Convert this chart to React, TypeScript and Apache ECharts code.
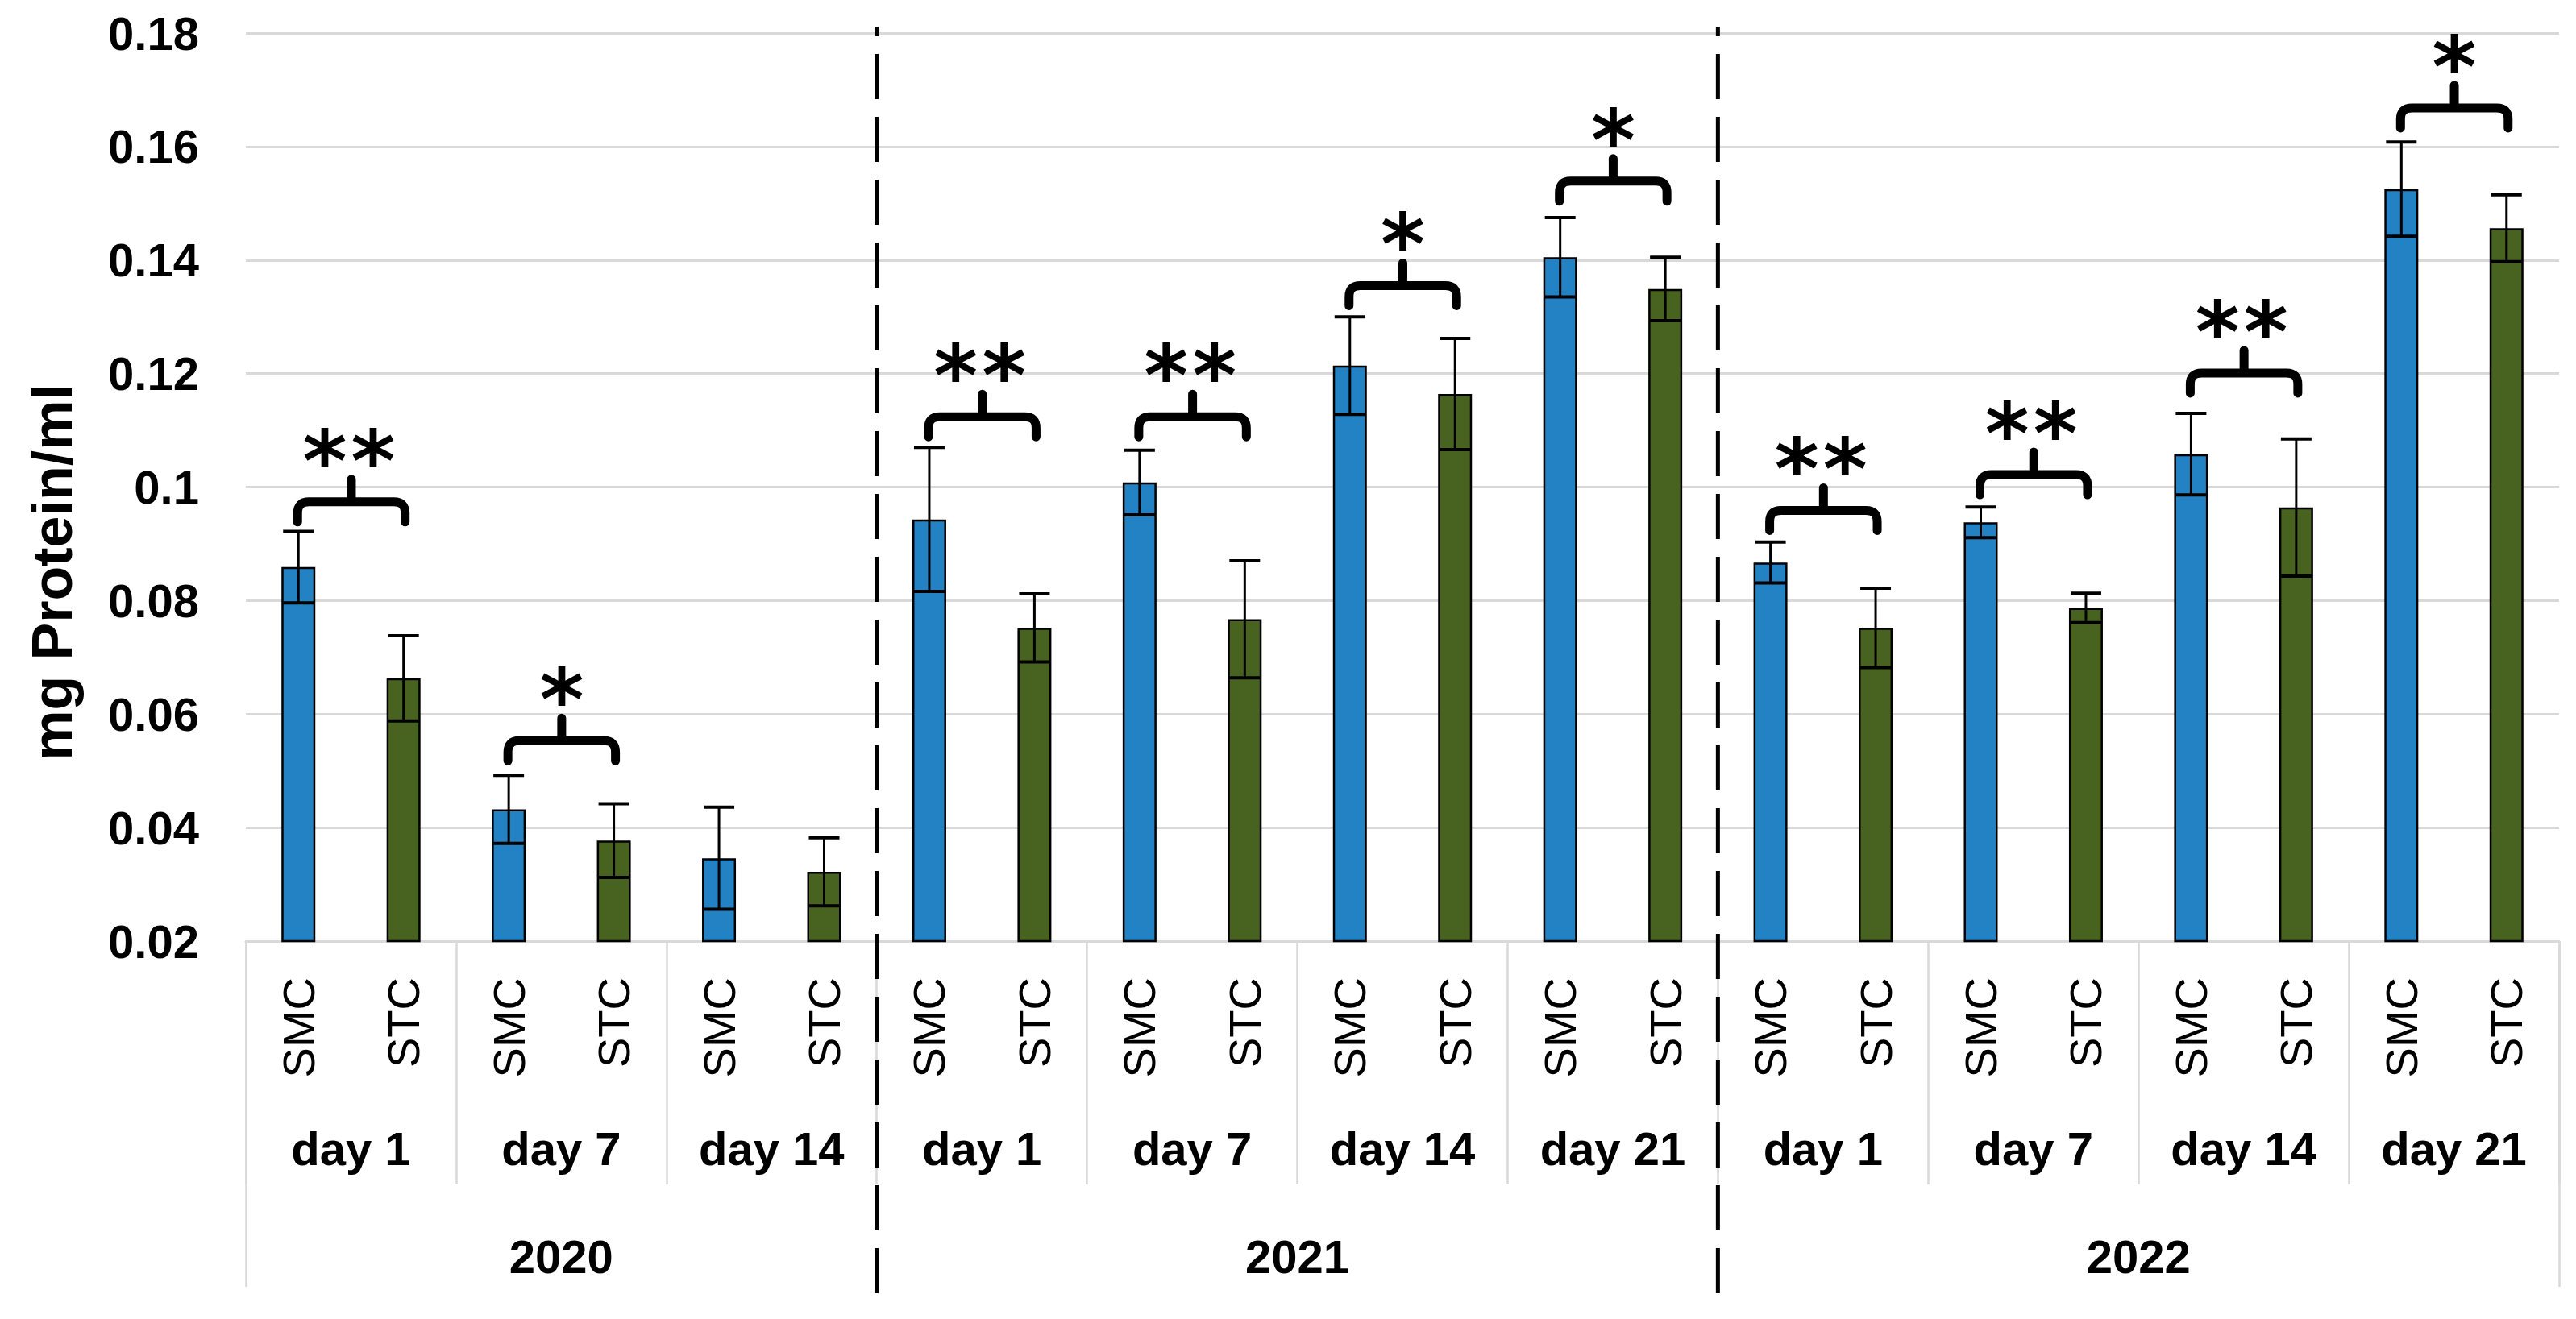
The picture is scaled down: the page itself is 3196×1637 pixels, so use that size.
import React, { useEffect, useRef } from 'react';
import * as echarts from 'echarts';

// ---------- data ----------
const years = ['2020', '2021', '2022'];
const dayGroups = [
  ['day 1', 'day 7', 'day 14'],
  ['day 1', 'day 7', 'day 14', 'day 21'],
  ['day 1', 'day 7', 'day 14', 'day 21'],
];
const treatments = ['SMC', 'STC'];

const smcMean = [0.0859, 0.0432, 0.0346, 0.0943, 0.1008, 0.1214, 0.1405, 0.0867, 0.0938, 0.1058, 0.1525];
const smcErr = [0.0063, 0.006, 0.009, 0.0127, 0.0057, 0.0086, 0.007, 0.0036, 0.0027, 0.0072, 0.0083];
const stcMean = [0.0663, 0.0377, 0.0322, 0.0752, 0.0767, 0.1164, 0.1349, 0.0752, 0.0787, 0.0964, 0.1456];
const stcErr = [0.0075, 0.0065, 0.006, 0.006, 0.0103, 0.0098, 0.0056, 0.007, 0.0026, 0.0121, 0.0059];

const significance = ['**', '*', '', '**', '**', '*', '*', '**', '**', '**', '*'];
const bracketLevel = [0.0974, 0.0553, 0, 0.1124, 0.1124, 0.1355, 0.1539, 0.0959, 0.1022, 0.1201, 0.1668];

const yMin = 0.02;
const yMax = 0.18;
const yStep = 0.02;
const yTitle = 'mg Protein/ml';

// ---------- styles ----------
const FONT = "'Liberation Sans', Arial, sans-serif";
const BLUE = '#2382C4';
const GREEN = '#48631F';
const GRAY = '#D9D9D9';

export default function App() {
  const ref = useRef<HTMLDivElement>(null);

  useEffect(() => {
    const chart = echarts.init(ref.current!, null, { renderer: 'svg' });

    const days = dayGroups.flat();
    const cats: string[] = [];
    days.forEach(() => treatments.forEach((t) => cats.push(t)));

    const smcData: any[] = [];
    const stcData: any[] = [];
    const errData: number[][] = [];
    const bracketData: number[][] = [];
    days.forEach((_, i) => {
      smcData.push(smcMean[i], '-');
      stcData.push('-', stcMean[i]);
      errData.push([2 * i, smcMean[i], smcErr[i]]);
      errData.push([2 * i + 1, stcMean[i], stcErr[i]]);
      if (significance[i]) bracketData.push([2 * i, bracketLevel[i], significance[i].length]);
    });

    const boundaries: number[] = [0];
    dayGroups.forEach((g) => boundaries.push(boundaries[boundaries.length - 1] + g.length * treatments.length));
    const yearCenters = years.map((_, i) => (boundaries[i] + boundaries[i + 1]) / 2);
    const innerBoundaries = boundaries.slice(1, -1).map((b) => [b, yMax]);
    const outerBoundaries = [boundaries[0], boundaries[boundaries.length - 1]];

    const option: any = {
      animation: false,
      backgroundColor: '#fff',
      grid: { left: 305, right: 21, top: 41, bottom: 469, containLabel: false },
      xAxis: [
        {
          type: 'category',
          data: cats,
          position: 'bottom',
          axisLine: { show: true, lineStyle: { color: GRAY, width: 3 } },
          axisTick: { show: false },
          axisLabel: {
            interval: 0,
            rotate: 90,
            margin: 45,
            fontSize: 56,
            fontFamily: FONT,
            color: '#000',
          },
          splitLine: { show: false },
        },
        {
          type: 'category',
          data: days,
          position: 'bottom',
          axisLine: { show: false },
          axisTick: { show: true, interval: 0, length: 302, lineStyle: { color: GRAY, width: 2.5 } },
          axisLabel: {
            interval: 0,
            margin: 228,
            fontSize: 58,
            fontWeight: 'bold',
            fontFamily: FONT,
            color: '#000',
          },
          splitLine: { show: false },
        },
        {
          type: 'value',
          min: 0,
          max: boundaries[boundaries.length - 1],
          position: 'bottom',
          axisLine: { show: false },
          axisTick: { show: true, customValues: outerBoundaries, length: 429, lineStyle: { color: GRAY, width: 2.5 } },
          axisLabel: {
            customValues: yearCenters,
            margin: 362,
            fontSize: 58,
            fontWeight: 'bold',
            fontFamily: FONT,
            color: '#000',
            formatter: (v: number) => years[yearCenters.indexOf(v)] ?? '',
          },
          splitLine: { show: false },
        },
      ],
      yAxis: {
        type: 'value',
        min: yMin,
        max: yMax,
        interval: yStep,
        axisLine: { show: false },
        axisTick: { show: false },
        splitLine: { show: true, lineStyle: { color: GRAY, width: 3 } },
        axisLabel: {
          margin: 58,
          fontSize: 58,
          fontWeight: 'bold',
          fontFamily: FONT,
          color: '#000',
          formatter: (v: number) => String(+v.toFixed(2)),
        },
        name: yTitle,
        nameLocation: 'middle',
        nameRotate: 90,
        nameGap: 205,
        nameTextStyle: {
          fontSize: 70,
          fontWeight: 'bold',
          fontFamily: FONT,
          color: '#000',
          padding: [0, 212, 0, 0],
        },
      },
      series: [
        {
          name: treatments[0],
          type: 'bar',
          xAxisIndex: 0,
          data: smcData,
          barWidth: 42,
          barGap: '-100%',
          itemStyle: { color: BLUE, borderColor: '#000', borderWidth: 2.5 },
          z: 2,
        },
        {
          name: treatments[1],
          type: 'bar',
          xAxisIndex: 0,
          data: stcData,
          barWidth: 42,
          barGap: '-100%',
          itemStyle: { color: GREEN, borderColor: '#000', borderWidth: 2.5 },
          z: 2,
        },
        {
          type: 'custom',
          name: 'error',
          xAxisIndex: 0,
          data: errData,
          z: 5,
          renderItem: (params: any, api: any) => {
            const x = api.value(0);
            const m = api.value(1);
            const e = api.value(2);
            const top = api.coord([x, m + e]);
            const bot = api.coord([x, m - e]);
            const cx = top[0];
            const hw = 19;
            const st = { stroke: '#000', lineWidth: 3 };
            return {
              type: 'group',
              children: [
                { type: 'line', shape: { x1: cx, y1: top[1], x2: cx, y2: bot[1] }, style: st },
                { type: 'line', shape: { x1: cx - hw, y1: top[1], x2: cx + hw, y2: top[1] }, style: { stroke: '#000', lineWidth: 4 } },
                { type: 'line', shape: { x1: cx - hw, y1: bot[1], x2: cx + hw, y2: bot[1] }, style: { stroke: '#000', lineWidth: 4 } },
              ],
            };
          },
        },
        {
          type: 'custom',
          name: 'brackets',
          xAxisIndex: 0,
          data: bracketData,
          z: 6,
          clip: false,
          renderItem: (params: any, api: any) => {
            const i = api.value(0);
            const lvl = api.value(1);
            const n = api.value(2);
            const p1 = api.coord([i, lvl]);
            const p2 = api.coord([i + 1, lvl]);
            const x1 = p1[0] - 1;
            const x2 = p2[0] + 2;
            const y = p1[1];
            const xm = (x1 + x2) / 2;
            const r = 14;
            const drop = 25;
            const tip = 28;
            const d = `M ${x1} ${y + drop} L ${x1} ${y + r} Q ${x1} ${y} ${x1 + r} ${y} L ${x2 - r} ${y} Q ${x2} ${y} ${x2} ${y + r} L ${x2} ${y + drop} M ${xm} ${y} L ${xm} ${y - tip}`;
            const children: any[] = [
              {
                type: 'path',
                shape: { pathData: d },
                style: { stroke: '#000', fill: 'none', lineWidth: 11, lineJoin: 'round', lineCap: 'round' },
              },
            ];
            const offsets = n === 2 ? [-33, 27] : [0];
            offsets.forEach((o) => {
              children.push({
                type: 'text',
                x: xm + o,
                y: y - 50,
                style: {
                  text: '*',
                  fontSize: 105,
                  fontWeight: 'bold',
                  fontFamily: "'DejaVu Sans', sans-serif",
                  fill: '#000',
                  align: 'center',
                  verticalAlign: 'middle',
                },
              });
            });
            return { type: 'group', children };
          },
        },
        {
          type: 'custom',
          name: 'yearSeparators',
          xAxisIndex: 2,
          data: innerBoundaries,
          z: 7,
          clip: false,
          renderItem: (params: any, api: any) => {
            const top = api.coord([api.value(0), api.value(1)]);
            const base = api.coord([api.value(0), yMin]);
            return {
              type: 'line',
              shape: { x1: top[0], y1: top[1] - 8, x2: top[0], y2: base[1] + 437 },
              style: { stroke: '#000', lineWidth: 5, lineDash: [56, 22], lineDashOffset: 44 },
            };
          },
        },
      ],
    };

    chart.setOption(option);
    return () => chart.dispose();
  }, []);

  return (
    <div
      ref={ref}
      style={{ position: 'absolute', left: 0, top: 0, width: 3196, height: 1637, background: '#fff' }}
    />
  );
}
